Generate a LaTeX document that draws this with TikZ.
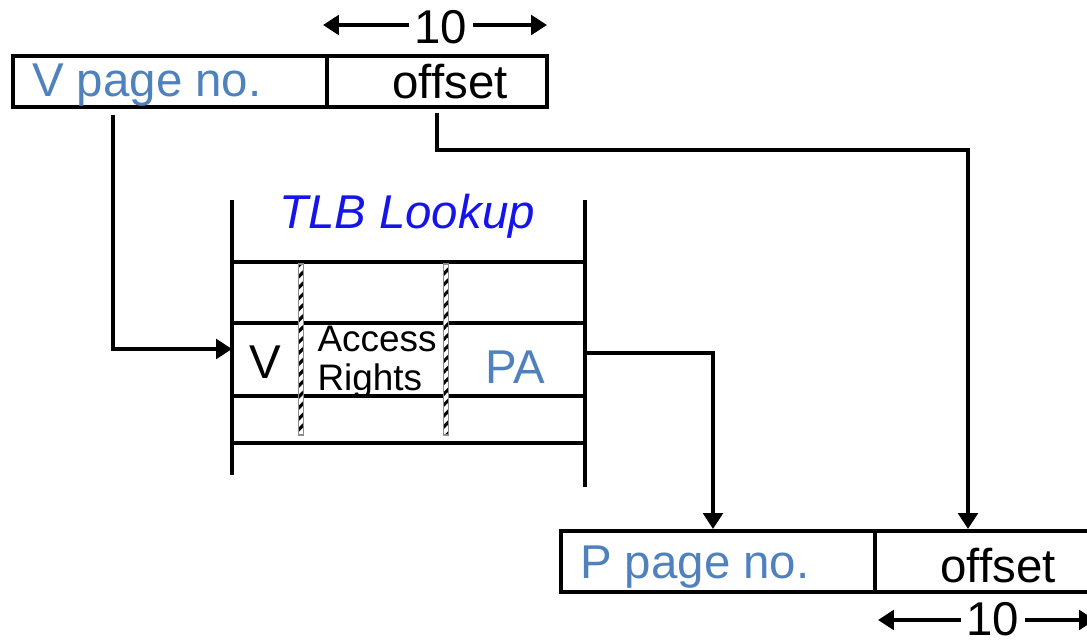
\documentclass[tikz,border=0pt]{standalone}
\usepackage{fontspec}
\setmainfont{Liberation Sans}
\usetikzlibrary{positioning, calc, arrows.meta, patterns.meta}
\definecolor{pblue}{RGB}{79,129,189}
\definecolor{tblue}{RGB}{20,20,235}

\begin{document}
\begin{tikzpicture}[
    line width=1.2pt,
    big/.style={font=\fontsize{13.5}{15}\selectfont, inner sep=0pt},
    small/.style={font=\fontsize{10.5}{11.3}\selectfont, inner sep=0pt, align=left},
    arr/.style={-{Triangle[width=5.5pt,length=4.5pt]}},
    hatch/.style={pattern={Lines[angle=45, distance=2.2pt, line width=0.9pt]}, pattern color=black}
]
    \useasboundingbox (0,0) rectangle (10.87,-6.41);
    \clip (0,0) rectangle (10.87,-6.41);

    % Virtual address
    \draw (0.13,-0.56) rectangle (5.47,-1.07);
    \draw (3.27,-0.56) -- (3.27,-1.07);
    \node[big, pblue, anchor=west] (vpn) at (0.30,-0.85) {V page no.};
    \node[big] (voff) at (4.50,-0.82) {offset};

    % Width of offset
    \node[big, inner xsep=1pt] (ten) at (4.41,-0.27) {10};
    \coordinate (tenl) at (3.23,-0.25);
    \coordinate (tenr) at (5.47,-0.25);
    \draw[arr] (ten.west |- tenl) -- (tenl);
    \draw[arr] (ten.east |- tenr) -- (tenr);

    % TLB
    \draw (2.32,-2.00) -- (2.32,-4.75);
    \draw (5.85,-2.00) -- (5.85,-4.87);
    \foreach \y in {2.62, 3.23, 3.96, 4.43}
        \draw (2.32,-\y) -- (5.85,-\y);
    \foreach \x in {3.01, 4.46} {
        \fill[white] (\x-0.028,-2.64) rectangle (\x+0.028,-4.35);
        \path[hatch] (\x-0.028,-2.64) rectangle (\x+0.028,-4.35);
        \draw[black!45, line width=0.3pt] (\x-0.028,-2.64) rectangle (\x+0.028,-4.35);
    }
    \node[big, tblue, font=\fontsize{13.5}{15}\selectfont\itshape] (tlbtitle) at (4.07,-2.16) {TLB Lookup};
    \node[big] (vbit) at (2.65,-3.62) {V};
    \node[small] (rights) at (3.77,-3.62) {Access\\Rights};
    \node[big, pblue] (pa) at (5.15,-3.67) {PA};

    % Physical address
    \draw (5.61,-5.31) rectangle (11.00,-5.92);
    \draw (8.75,-5.31) -- (8.75,-5.92);
    \node[big, pblue, anchor=west] (ppn) at (5.78,-5.67) {P page no.};
    \node[big] (poff) at (9.98,-5.66) {offset};

    \node[big, inner xsep=1pt] (tenb) at (9.93,-6.19) {10};
    \coordinate (tenbl) at (8.78,-6.20);
    \coordinate (tenbr) at (10.95,-6.20);
    \draw[arr] (tenb.west |- tenbl) -- (tenbl);
    \draw[arr] (tenb.east |- tenbr) -- (tenbr);

    % Connectors
    \coordinate (vdown) at (1.13,-1.15);
    \coordinate (tlbin) at (2.32,-3.49);
    \draw[arr] (vdown) |- (tlbin);

    \coordinate (odown) at (4.37,-1.13);
    \coordinate (oturn) at (9.68,-1.50);
    \coordinate (oin) at (9.68,-5.29);
    \draw[arr] (odown) |- (oturn) -- (oin);

    \coordinate (paout) at (5.85,-3.53);
    \coordinate (pin) at (7.13,-5.29);
    \draw[arr] (paout) -| (pin);
\end{tikzpicture}
\end{document}
